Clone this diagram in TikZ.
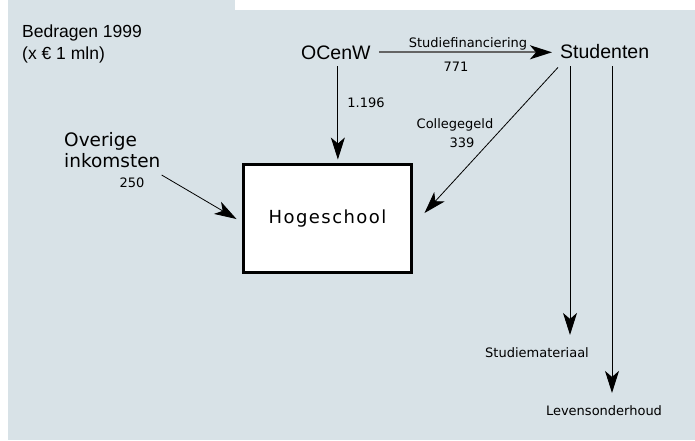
\documentclass[tikz,border=0pt]{standalone}
\usepackage{fontspec}
\setmainfont{Liberation Sans}
\newfontfamily\dvs{DejaVu Sans}
\newfontfamily\dvsls[LetterSpace=8]{DejaVu Sans}
\usetikzlibrary{arrows.meta,calc}
\definecolor{bgc}{RGB}{216,226,231}
\definecolor{linegray}{RGB}{100,100,100}
\tikzset{
  big/.style={font=\fontsize{19.5}{22}\selectfont, inner sep=0pt},
  head/.style={font=\fontsize{17.5}{21}\selectfont, inner sep=0pt},
  mid/.style={font=\dvs\fontsize{18.5}{21}\selectfont, inner sep=0pt},
  small/.style={font=\dvs\fontsize{13}{15}\selectfont, inner sep=0pt},
  flow/.style={-{Stealth[length=22pt,width=14pt,inset=6pt,color=black]}, line width=0.9pt},
  boxstyle/.style={draw, line width=3pt, fill=white, minimum width=168pt, minimum height=108pt, inner sep=0pt,
    font=\dvsls\fontsize{18}{21}\selectfont},
}
\begin{document}
\begin{tikzpicture}[x=1pt,y=-1pt]
\useasboundingbox (0,0) rectangle (695,440);
\fill[white] (0,0) rectangle (695,440);
\fill[bgc] (8,0) rectangle (695,440);
\fill[white] (235,0) rectangle (695,10);

\node[head, anchor=base west] (title) at (22,37) {Bedragen 1999};
\node[head, anchor=base west] (unit) at (22,59) {(x € 1 mln)};

\node[big, anchor=base west] (ocenw) at (301,59) {OCenW};
\node[big, anchor=base west] (stud) at (560,58) {Studenten};
\node[mid, anchor=south west, align=left] (ovr) at (64,168) {Overige\\inkomsten};
\node[boxstyle] (hs) at (327.5,218.5) {Hogeschool};

\node[small, anchor=base] (sf) at (468,47) {Studiefinanciering};
\node[small, anchor=base] (n771) at (456,71) {771};
\node[small, anchor=base] (n1196) at (366,107) {1.196};
\node[small, anchor=base] (cg) at (455,128) {Collegegeld};
\node[small, anchor=base] (n339) at (462,147) {339};
\node[small, anchor=base] (n250) at (132,187) {250};
\node[small, anchor=base] (sm) at (537,357) {Studiemateriaal};
\node[small, anchor=base] (lev) at (604,415) {Levensonderhoud};

\coordinate (a1) at ([shift={(10,8)}]stud.south west);
\coordinate (a2) at ([shift={(52,8)}]stud.south west);

\draw[flow, draw=linegray, line width=2pt] ([shift={(8,0)}]ocenw.east) -- ([shift={(-8,0)}]ocenw.east -| stud.west);
\draw[flow] ([shift={(2,7)}]ocenw.south) -- ($([shift={(2,0)}]ocenw.south |- hs.north)+(0,-3.5)$);
\draw[flow, line width=0.8pt] ([shift={(-2,9)}]stud.south west) -- ([shift={(11.5,-5.5)}]hs.east);
\draw[flow, line width=0.8pt] ([shift={(1,7)}]ovr.south east) -- ([shift={(-5.5,0.5)}]hs.west);
\draw[flow] (a1) -- ($(a1 |- sm.north)+(0,-12)$);
\draw[flow] (a2) -- ($(a2 |- lev.north)+(0,-12)$);
\end{tikzpicture}
\end{document}
